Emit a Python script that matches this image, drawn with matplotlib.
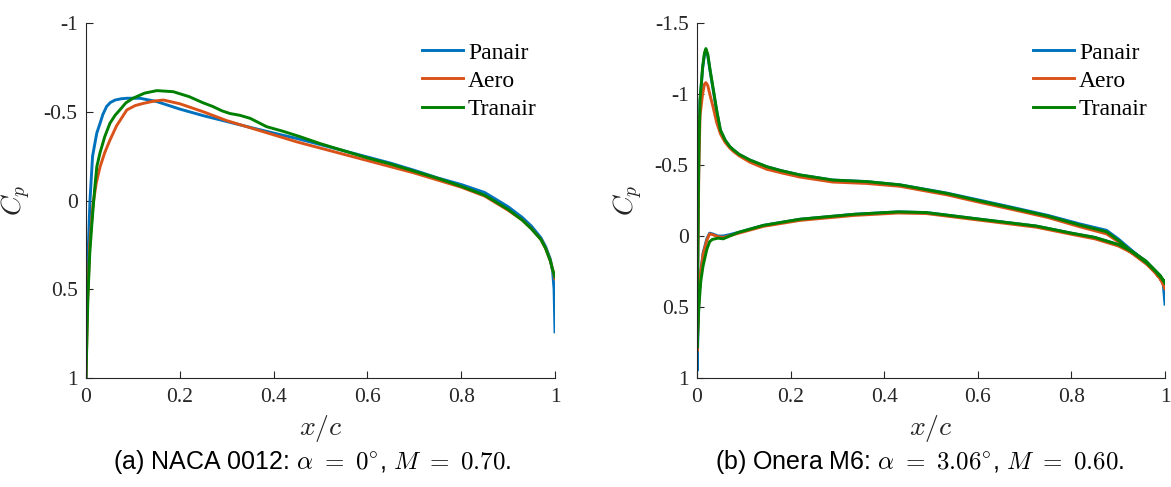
import numpy as np
import matplotlib
matplotlib.use("Agg")
import matplotlib.pyplot as plt

plt.rcParams['font.family'] = ['Liberation Serif', 'DejaVu Serif']
plt.rcParams['mathtext.fontset'] = 'cm'

# ---- (a) NACA 0012 ----
x_naca_panair = [0, 0.002, 0.005, 0.0085, 0.014, 0.023, 0.03, 0.036, 0.044, 0.052, 0.062, 0.075,
                 0.087, 0.115, 0.15, 0.2, 0.25, 0.3, 0.35, 0.4, 0.45, 0.5, 0.55, 0.6, 0.65,
                 0.7, 0.75, 0.8, 0.85, 0.9, 0.93, 0.95, 0.97, 0.98, 0.99, 0.995, 0.998, 1.0]
cp_naca_panair = [1.0, 0.55, 0.26, 0.0, -0.25, -0.38, -0.435, -0.485, -0.53, -0.552, -0.566,
                  -0.573, -0.576, -0.576, -0.558, -0.515, -0.478, -0.445, -0.412, -0.38, -0.349,
                  -0.315, -0.28, -0.245, -0.21, -0.17, -0.127, -0.09, -0.045, 0.035, 0.095,
                  0.145, 0.21, 0.26, 0.33, 0.4, 0.5, 0.74]

x_naca_aero = [0, 0.003, 0.008, 0.015, 0.022, 0.03, 0.04, 0.051, 0.065, 0.087, 0.105, 0.122,
               0.145, 0.165, 0.2, 0.25, 0.3, 0.35, 0.4, 0.45, 0.5, 0.55, 0.6, 0.65, 0.7,
               0.75, 0.8, 0.85, 0.9, 0.93, 0.95, 0.97, 0.98, 0.99, 0.995, 1.0]
cp_naca_aero = [1.0, 0.6, 0.25, 0.02, -0.1, -0.19, -0.27, -0.34, -0.42, -0.51, -0.535, -0.547,
                -0.56, -0.566, -0.545, -0.5, -0.45, -0.41, -0.37, -0.33, -0.295, -0.26, -0.225,
                -0.19, -0.155, -0.115, -0.075, -0.025, 0.055, 0.11, 0.16, 0.22, 0.27, 0.34,
                0.39, 0.44]

x_naca_tranair = [0, 0.004, 0.008, 0.012, 0.018, 0.023, 0.03, 0.04, 0.051, 0.062, 0.072, 0.085,
                  0.1, 0.125, 0.151, 0.186, 0.22, 0.25, 0.27, 0.29, 0.307, 0.328, 0.35, 0.385,
                  0.42, 0.456, 0.5, 0.55, 0.6, 0.65, 0.7, 0.75, 0.8, 0.85, 0.9, 0.93, 0.95,
                  0.97, 0.98, 0.99, 0.995, 1.0]
cp_naca_tranair = [1.0, 0.55, 0.3, 0.15, -0.05, -0.19, -0.27, -0.36, -0.435, -0.48, -0.51,
                   -0.55, -0.576, -0.605, -0.619, -0.613, -0.585, -0.55, -0.53, -0.505, -0.49,
                   -0.48, -0.463, -0.416, -0.39, -0.36, -0.32, -0.28, -0.24, -0.205, -0.165,
                   -0.125, -0.08, -0.03, 0.05, 0.11, 0.16, 0.22, 0.27, 0.34, 0.39, 0.43]

# ---- (b) Onera M6 ----
x_m6_up = [0, 0.002, 0.004, 0.0065, 0.012, 0.016, 0.019, 0.023, 0.028, 0.035, 0.042, 0.05,
           0.06, 0.07, 0.078, 0.09, 0.113, 0.149, 0.18, 0.22, 0.29, 0.363, 0.434, 0.5, 0.534,
           0.6, 0.676, 0.75, 0.818, 0.875, 0.9, 0.925, 0.961, 0.98, 0.996, 1.0]
cp_m6_up_panair = [0.95, 0.0, -0.6, -0.95, -1.18, -1.28, -1.31, -1.27, -1.16, -1.02, -0.88,
                   -0.745, -0.675, -0.63, -0.606, -0.575, -0.535, -0.488, -0.46, -0.43, -0.394,
                   -0.383, -0.36, -0.322, -0.302, -0.255, -0.2, -0.145, -0.085, -0.04, 0.02,
                   0.09, 0.19, 0.25, 0.33, 0.48]
cp_m6_up_aero = [0.81, 0.1, -0.5, -0.85, -1.0, -1.07, -1.08, -1.06, -0.99, -0.9, -0.8, -0.72,
                 -0.66, -0.62, -0.595, -0.565, -0.52, -0.47, -0.445, -0.415, -0.38, -0.37,
                 -0.35, -0.31, -0.29, -0.24, -0.185, -0.13, -0.065, -0.015, 0.04, 0.11, 0.2,
                 0.26, 0.33, 0.37]
cp_m6_up_tranair = [0.79, 0.0, -0.6, -0.96, -1.19, -1.29, -1.32, -1.28, -1.17, -1.03, -0.887,
                    -0.746, -0.676, -0.63, -0.606, -0.575, -0.535, -0.488, -0.46, -0.43, -0.394,
                    -0.383, -0.36, -0.32, -0.3, -0.25, -0.195, -0.14, -0.077, -0.03, 0.03, 0.1,
                    0.19, 0.25, 0.31, 0.33]

x_m6_lo = [0, 0.004, 0.008, 0.013, 0.021, 0.027, 0.033, 0.045, 0.056, 0.07, 0.087, 0.142, 0.22,
           0.336, 0.43, 0.49, 0.6, 0.725, 0.8, 0.85, 0.9, 0.93, 0.959, 0.99, 1.0]
cp_m6_lo_panair = [0.95, 0.45, 0.25, 0.12, 0.02, -0.02, -0.015, 0.0, 0.0, -0.01, -0.024, -0.075,
                   -0.118, -0.153, -0.17, -0.165, -0.12, -0.07, -0.02, 0.01, 0.06, 0.11, 0.176,
                   0.28, 0.35]
cp_m6_lo_aero = [0.81, 0.45, 0.26, 0.13, 0.03, -0.015, -0.01, 0.005, 0.01, -0.002, -0.018,
                 -0.068, -0.11, -0.145, -0.162, -0.158, -0.113, -0.062, -0.012, 0.02, 0.07,
                 0.12, 0.185, 0.3, 0.37]
cp_m6_lo_tranair = [0.79, 0.5, 0.32, 0.21, 0.094, 0.04, 0.024, 0.015, 0.02, 0.0, -0.024, -0.075,
                    -0.118, -0.153, -0.17, -0.165, -0.12, -0.07, -0.02, 0.01, 0.06, 0.11, 0.176,
                    0.28, 0.33]

labels = ["Panair", "Aero", "Tranair"]
colors = ["#0072BD", "#D95319", "#008000"]

xticks = [0, 0.2, 0.4, 0.6, 0.8, 1]
xticklabels = ["0", "0.2", "0.4", "0.6", "0.8", "1"]
yticks_a = [-1, -0.5, 0, 0.5, 1]
yticklabels_a = ["-1", "-0.5", "0", "0.5", "1"]
yticks_b = [-1.5, -1, -0.5, 0, 0.5, 1]
yticklabels_b = ["-1.5", "-1", "-0.5", "0", "0.5", "1"]

fig = plt.figure(figsize=(11.71, 4.87), dpi=100)
ax1 = fig.add_axes([86 / 1171, 1 - 378 / 487, 469 / 1171, 355 / 487])
ax2 = fig.add_axes([697 / 1171, 1 - 378 / 487, 468 / 1171, 355 / 487])

# NACA: one curve per method
naca = [(x_naca_panair, cp_naca_panair), (x_naca_aero, cp_naca_aero),
        (x_naca_tranair, cp_naca_tranair)]
for (x, cp), lab, c in zip(naca, labels, colors):
    ax1.plot(x, cp, color=c, lw=2.1, label=lab)

# M6: upper surface from TE to LE, then lower surface LE to TE
m6 = [(cp_m6_up_panair, cp_m6_lo_panair), (cp_m6_up_aero, cp_m6_lo_aero),
      (cp_m6_up_tranair, cp_m6_lo_tranair)]
for (up, lo), lab, c in zip(m6, labels, colors):
    x = list(x_m6_up[::-1]) + list(x_m6_lo[1:])
    cp = list(up[::-1]) + list(lo[1:])
    ax2.plot(x, cp, color=c, lw=2.1, label=lab)

for ax, yt, ytl, ylim in [(ax1, yticks_a, yticklabels_a, (1, -1)),
                          (ax2, yticks_b, yticklabels_b, (1, -1.5))]:
    ax.set_xlim(0, 1)
    ax.set_ylim(*ylim)
    ax.set_xticks(xticks)
    ax.set_xticklabels(xticklabels)
    ax.set_yticks(yt)
    ax.set_yticklabels(ytl)
    for s in ["top", "right"]:
        ax.spines[s].set_visible(False)
    for s in ["left", "bottom"]:
        ax.spines[s].set_color("#262626")
        ax.spines[s].set_linewidth(0.8)
    ax.tick_params(direction="in", length=5, width=0.8, color="#262626",
                   labelcolor="#262626", labelsize=15.5)
    ax.tick_params(axis="x", pad=7)
    ax.tick_params(axis="y", pad=6)
    ax.set_xlabel("$x/c$", fontsize=20, color="#262626")
    ax.set_ylabel("$C_p$", fontsize=20, color="#262626")
    ax.xaxis.set_label_coords(0.5, -0.1)
    ax.yaxis.set_label_coords(-0.112, 0.5)

for ax, x0 in [(ax1, 422), (ax2, 1033)]:
    ax.legend(loc="upper left", bbox_to_anchor=(x0 / 1171, 1 - 42 / 487),
              bbox_transform=fig.transFigure, frameon=False, fontsize=17,
              handlelength=1.75, handletextpad=0.2, labelspacing=0.28,
              borderpad=0, borderaxespad=0)

fig.text(312 / 1171, 1 - 462 / 487,
         r"(a) NACA 0012: $\alpha\ =\ 0^{\circ}$, $M\ =\ 0.70$.",
         ha="center", va="center", fontsize=18, family=["Liberation Sans"])
fig.text(920 / 1171, 1 - 462 / 487,
         r"(b) Onera M6: $\alpha\ =\ 3.06^{\circ}$, $M\ =\ 0.60$.",
         ha="center", va="center", fontsize=18, family=["Liberation Sans"])

fig.savefig("out.png", dpi=100)
